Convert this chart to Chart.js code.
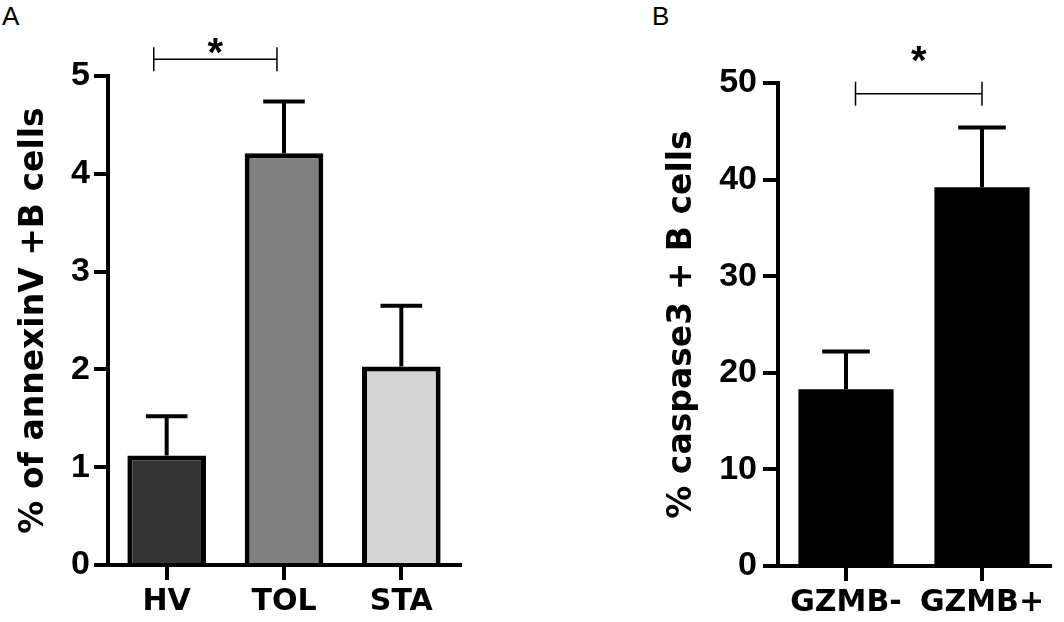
<!DOCTYPE html>
<html>
<head>
<meta charset="utf-8">
<script src="https://cdn.jsdelivr.net/npm/chart.js@4.4.1/dist/chart.umd.min.js"></script>
<style>
    body { margin: 0; background: #fff; width: 1064px; height: 622px; position: relative; overflow: hidden; font-family: 'Liberation Sans', Arial, sans-serif; }
    .painel { position: absolute; top: 0; height: 622px; }
    .letra { position: absolute; top: 1px; font-size: 26px; color: #000; }
</style>
</head>
<body>
<div class="letra" style="left:2px">A</div>
<div class="letra" style="left:652px">B</div>
<div class="painel" style="left:0; width:520px"><canvas id="graficoA"></canvas></div>
<div class="painel" style="left:648px; width:416px"><canvas id="graficoB"></canvas></div>
<script>
// Painel A - annexinV
const categoriasA = ['HV', 'TOL', 'STA'];
const mediasA = [1.12, 4.21, 2.03];
const errosA = [0.40, 0.53, 0.62];
const coresA = ['#333333', '#808080', '#d4d4d4'];
const ticksA = [0, 1, 2, 3, 4, 5];
// [de, ate, altura da barra, altura do asterisco]
const colcheteA = [-0.11, 0.94, 5.17, 5.32];

// Painel B - caspase3
const categoriasB = ['GZMB-', 'GZMB+'];
const mediasB = [18.3, 39.2];
const errosB = [3.9, 6.2];
const coresB = ['#000000', '#000000'];
const ticksB = [0, 10, 20, 30, 40, 50];
const colcheteB = [0.07, 1.0, 48.9, 53.1];

const barrasDeErro = {
    id: 'barrasDeErro',
    afterDatasetsDraw(chart, args, opts) {
        const ctx = chart.ctx;
        const x = chart.scales.x;
        const y = chart.scales.y;
        const meta = chart.getDatasetMeta(0);
        ctx.save();
        ctx.strokeStyle = '#000';
        ctx.fillStyle = '#000';
        ctx.lineWidth = 4;
        meta.data.forEach((barra, i) => {
            const base = y.getPixelForValue(opts.medias[i]);
            const topo = y.getPixelForValue(opts.medias[i] + opts.erros[i]);
            const meia = barra.width * opts.capa / 2;
            ctx.beginPath();
            ctx.moveTo(barra.x, base);
            ctx.lineTo(barra.x, topo);
            ctx.moveTo(barra.x - meia, topo);
            ctx.lineTo(barra.x + meia, topo);
            ctx.stroke();
        });
        // colchete de significância
        const c = opts.colchete;
        const x1 = x.getPixelForValue(c[0]);
        const x2 = x.getPixelForValue(c[1]);
        const yc = y.getPixelForValue(c[2]);
        ctx.lineWidth = 1.5;
        ctx.beginPath();
        ctx.moveTo(x1, yc); ctx.lineTo(x2, yc);
        ctx.moveTo(x1, yc - 12); ctx.lineTo(x1, yc + 12);
        ctx.moveTo(x2, yc - 12); ctx.lineTo(x2, yc + 12);
        ctx.stroke();
        ctx.font = 'bold 40px "Liberation Sans", Arial';
        ctx.textAlign = 'center';
        ctx.textBaseline = 'alphabetic';
        ctx.fillText('*', (x1 + x2) / 2, y.getPixelForValue(c[3]) + 0.52 * 40);
        ctx.restore();
    }
};

function criarGrafico(id, cfg) {
    return new Chart(document.getElementById(id).getContext('2d'), {
        type: 'bar',
        data: {
            labels: cfg.categorias,
            datasets: [{
                data: cfg.medias,
                backgroundColor: cfg.cores,
                borderColor: '#000',
                borderWidth: cfg.borda,
                borderSkipped: 'bottom',
                barPercentage: cfg.largura,
                categoryPercentage: 1
            }]
        },
        plugins: [barrasDeErro],
        options: {
            responsive: true,
            maintainAspectRatio: false,
            animation: false,
            layout: { padding: { top: cfg.topo, right: cfg.direita, left: 0, bottom: 0 } },
            plugins: {
                legend: { display: false },
                tooltip: { enabled: false },
                barrasDeErro: { medias: cfg.medias, erros: cfg.erros, capa: cfg.capa, colchete: cfg.colchete }
            },
            scales: {
                x: {
                    offset: true,
                    grid: { display: true, drawOnChartArea: false, offset: false, tickLength: 15, lineWidth: 4, color: '#000' },
                    border: { display: true, width: 4, color: '#000' },
                    ticks: { color: '#000', padding: 4, font: { family: 'DejaVu Sans', weight: 'bold', size: 30 } },
                    afterFit: (s) => { s.height = cfg.alturaX; }
                },
                y: {
                    min: cfg.ticks[0],
                    max: cfg.ticks[cfg.ticks.length - 1],
                    afterBuildTicks: (s) => { s.ticks = cfg.ticks.map(v => ({ value: v })); },
                    grid: { display: true, drawOnChartArea: false, tickLength: cfg.tickY, lineWidth: 4, color: '#000' },
                    border: { display: true, width: 4, color: '#000' },
                    ticks: { color: '#000', padding: cfg.padY, font: { family: "'Liberation Sans', Arial", weight: 'bold', size: 34 } },
                    title: {
                        display: true,
                        text: cfg.titulo,
                        color: '#000',
                        font: { family: 'DejaVu Sans', weight: 'bold', size: 33 },
                        padding: { top: 15, bottom: 0 }
                    },
                    afterFit: (s) => { s.width = cfg.larguraY; }
                }
            }
        }
    });
}

criarGrafico('graficoA', {
    categorias: categoriasA, medias: mediasA, erros: errosA, cores: coresA, ticks: ticksA,
    colchete: colcheteA, titulo: '% of annexinV +B cells', borda: 5,
    largura: 0.67, capa: 0.53, topo: 76, direita: 60, alturaX: 57, larguraY: 108, tickY: 14, padY: 4
});

criarGrafico('graficoB', {
    categorias: categoriasB, medias: mediasB, erros: errosB, cores: coresB, ticks: ticksB,
    colchete: colcheteB, titulo: '% caspase3 + B cells', borda: 0,
    largura: 0.70, capa: 0.5, topo: 83, direita: 14, alturaX: 56, larguraY: 130, tickY: 15, padY: 6
});
</script>
</body>
</html>
